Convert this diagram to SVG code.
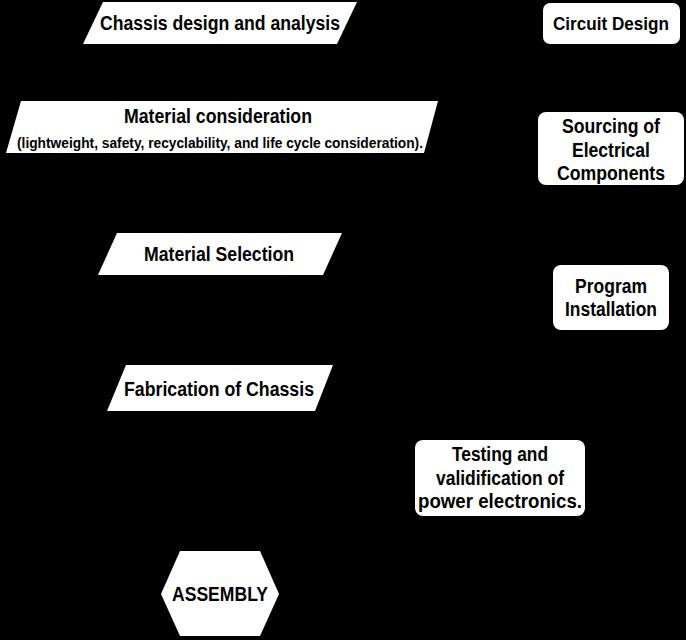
<svg xmlns="http://www.w3.org/2000/svg" width="686" height="640" viewBox="0 0 686 640">
<style>
.shape{fill:#fff;stroke:none}
.t{font-family:"Liberation Sans",Arial,sans-serif;font-weight:bold;font-size:20px;fill:#000;text-anchor:middle}
.s{font-size:14px}
.c{fill:none;stroke:#000;stroke-width:2}
</style>
<defs><marker id="ah" markerWidth="8" markerHeight="8" refX="7" refY="4" orient="auto"><path d="M0,0L8,4L0,8z" fill="#000"/></marker></defs>
<rect width="686" height="640" fill="#000"/>
<g id="connectors">
<path class="c" d="M220,44V101" marker-end="url(#ah)"/>
<path class="c" d="M220,153V233" marker-end="url(#ah)"/>
<path class="c" d="M220,275V365" marker-end="url(#ah)"/>
<path class="c" d="M220,411V551" marker-end="url(#ah)"/>
<path class="c" d="M611,44V112" marker-end="url(#ah)"/>
<path class="c" d="M611,185V265" marker-end="url(#ah)"/>
<path class="c" d="M611,330V440" marker-end="url(#ah)"/>
<path class="c" d="M500,516V594H279" marker-end="url(#ah)"/>
</g>
<g id="chassis-design">
<polygon class="shape" points="103,2 357,2 337,44 83,44"/>
<text class="t" x="220" y="30" textLength="240" lengthAdjust="spacingAndGlyphs">Chassis design and analysis</text>
</g>
<g id="material-consideration">
<polygon class="shape" points="21,101 438,101 424,153 6,153"/>
<text class="t" x="218" y="123" textLength="188" lengthAdjust="spacingAndGlyphs">Material consideration</text>
<text class="t s" x="220" y="148" textLength="406" lengthAdjust="spacingAndGlyphs">(lightweight, safety, recyclability, and life cycle consideration).</text>
</g>
<g id="material-selection">
<polygon class="shape" points="117,233 342,233 323,275 98,275"/>
<text class="t" x="219" y="261" textLength="150" lengthAdjust="spacingAndGlyphs">Material Selection</text>
</g>
<g id="fabrication">
<polygon class="shape" points="126,365 333,365 315,411 107,411"/>
<text class="t" x="219" y="396" textLength="190" lengthAdjust="spacingAndGlyphs">Fabrication of Chassis</text>
</g>
<g id="assembly">
<polygon class="shape" points="180,551 260,551 279,594 260,636 180,636 161,594"/>
<text class="t" x="220" y="601" textLength="96" lengthAdjust="spacingAndGlyphs">ASSEMBLY</text>
</g>
<g id="circuit-design">
<rect class="shape" x="543" y="3" width="137" height="41" rx="7"/>
<text class="t" x="611" y="30" style="font-size:19px" textLength="116" lengthAdjust="spacingAndGlyphs">Circuit Design</text>
</g>
<g id="sourcing">
<rect class="shape" x="538" y="112" width="146" height="73" rx="8"/>
<text class="t" x="611" y="133" textLength="98" lengthAdjust="spacingAndGlyphs">Sourcing of</text>
<text class="t" x="611" y="157" textLength="78" lengthAdjust="spacingAndGlyphs">Electrical</text>
<text class="t" x="611" y="180" textLength="108" lengthAdjust="spacingAndGlyphs">Components</text>
</g>
<g id="program-installation">
<rect class="shape" x="553" y="265" width="116" height="65" rx="8"/>
<text class="t" x="611" y="293" textLength="72" lengthAdjust="spacingAndGlyphs">Program</text>
<text class="t" x="611" y="316" textLength="92" lengthAdjust="spacingAndGlyphs">Installation</text>
</g>
<g id="testing">
<rect class="shape" x="415" y="440" width="170" height="76" rx="8"/>
<text class="t" x="500" y="461" textLength="96" lengthAdjust="spacingAndGlyphs">Testing and</text>
<text class="t" x="500" y="485" textLength="128" lengthAdjust="spacingAndGlyphs">validification of</text>
<text class="t" x="500" y="508" textLength="164" lengthAdjust="spacingAndGlyphs">power electronics.</text>
</g>
</svg>
